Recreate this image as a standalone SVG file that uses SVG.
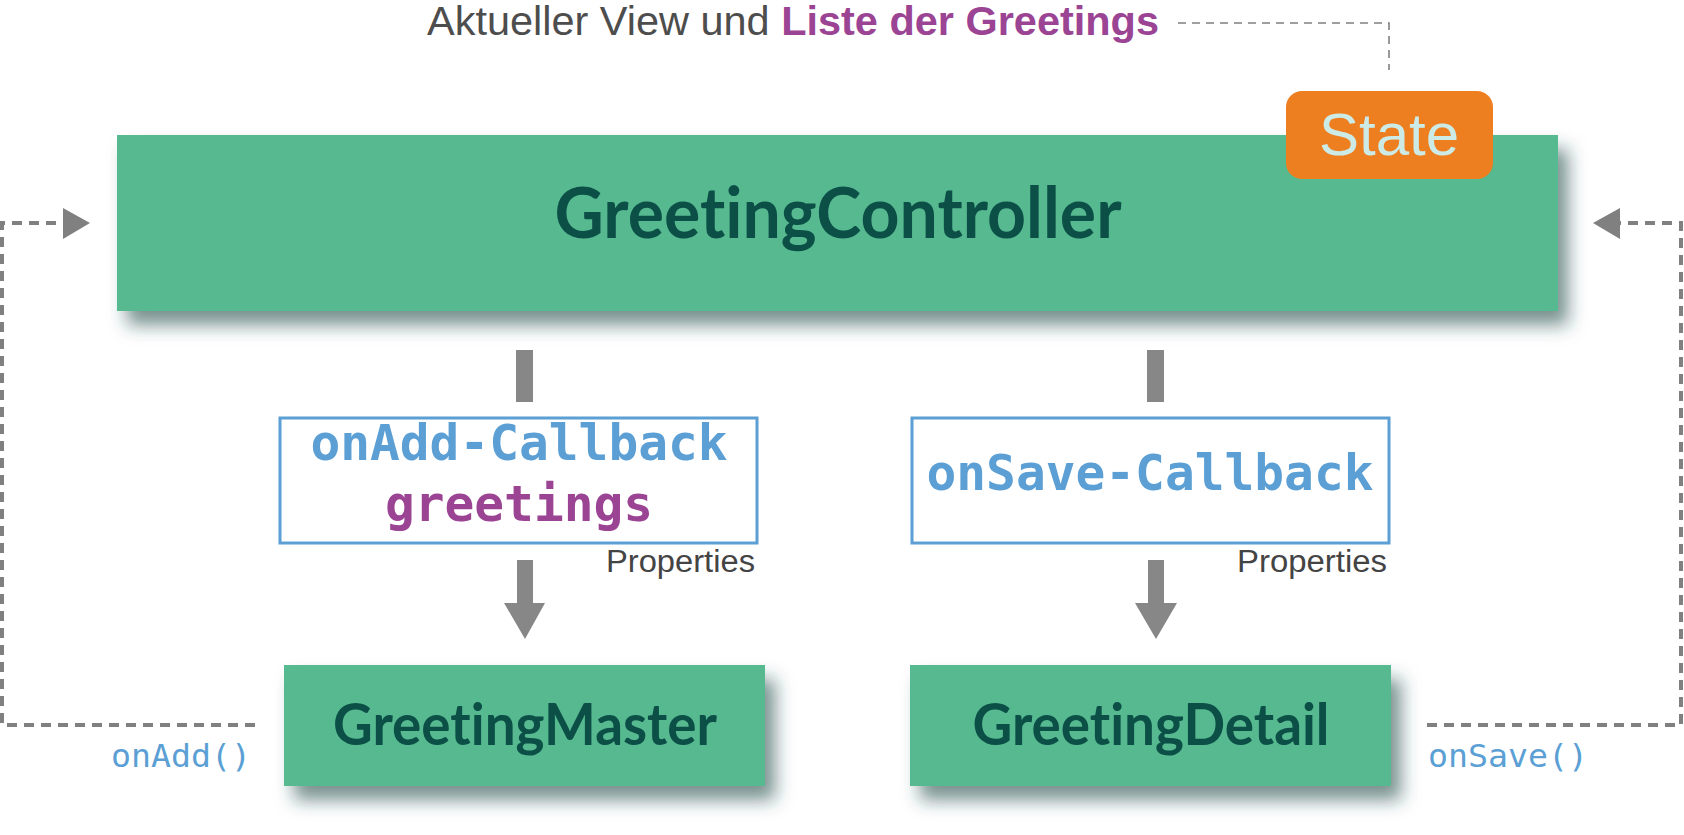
<svg xmlns="http://www.w3.org/2000/svg" width="1684" height="835" viewBox="0 0 1684 835">
<defs>
<filter id="sh" x="-10%" y="-20%" width="130%" height="160%">
<feDropShadow dx="10" dy="14" stdDeviation="9" flood-color="#1d4a45" flood-opacity="0.6"/>
</filter>
<style>
text{font-variant-ligatures:none;font-feature-settings:"liga" 0,"clig" 0}
.comp{fill:#57B98F;filter:url(#sh)}
.ctext{font-family:Lato,"Noto Sans",sans-serif;font-weight:700;fill:#0B4F47;text-anchor:middle}
.prop{fill:#fff;stroke:#5B9FD4;stroke-width:3}
.mono{font-family:"DejaVu Sans Mono","Liberation Mono",monospace;font-weight:700;font-size:49.5px;text-anchor:middle}
.blue{fill:#5B9FD4}
.purple{fill:#9B4494}
.lbl{font-family:"Liberation Sans",Arial,sans-serif;font-size:31px;fill:#444;text-anchor:end}
.call{font-family:"DejaVu Sans Mono","Liberation Mono",monospace;font-size:32px;fill:#5B9FD4}
.bar{fill:#878787}
.fb{fill:none;stroke:#808080;stroke-width:4;stroke-dasharray:10 7}
.thin{fill:none;stroke:#808080;stroke-width:1.6;stroke-dasharray:8 6}
</style>
</defs>
<rect width="1684" height="835" fill="#fff"/>

<g id="title">
<text x="427" y="35" font-family="'Liberation Sans',Arial,sans-serif" font-size="40" fill="#4d4d4d" textLength="732" lengthAdjust="spacingAndGlyphs">Aktueller View und <tspan font-weight="700" fill="#9B4494">Liste der Greetings</tspan></text>
</g>

<g id="connectors">
<path class="thin" d="M1178 23 H1389 V70"/>
<rect class="bar" x="516" y="350" width="17" height="52"/>
<rect class="bar" x="1147" y="350" width="17" height="52"/>
<path class="bar" d="M517 560 H533 V603 H545 L525 639 L504 603 H517 Z"/>
<path class="bar" d="M1148 560 H1164 V603 H1177 L1156 639 L1135 603 H1148 Z"/>
<path class="fb" d="M255 725 H2 V223 H63"/>
<polygon points="63,208 90,223 63,239" fill="#808080"/>
<path class="fb" d="M1427 725 H1681 V223 H1620"/>
<polygon points="1620,208 1593,223 1620,239" fill="#808080"/>
<text class="call" x="111" y="767" textLength="140" lengthAdjust="spacingAndGlyphs">onAdd()</text>
<text class="call" x="1428" y="767" textLength="160" lengthAdjust="spacingAndGlyphs">onSave()</text>
</g>

<g id="GreetingController">
<rect class="comp" x="117" y="135" width="1441" height="176"/>
<text class="ctext" x="838" y="238" font-size="70" textLength="567" lengthAdjust="spacingAndGlyphs">GreetingController</text>
</g>

<g id="State">
<rect x="1286" y="91" width="207" height="88" rx="16" fill="#EE7F21"/>
<text x="1389" y="155" font-family="'Liberation Sans',Arial,sans-serif" font-size="60" fill="#CDEBE6" text-anchor="middle">State</text>
</g>

<g id="onAddProps">
<rect class="prop" x="280" y="418" width="477" height="125"/>
<text class="mono blue" x="519" y="460">onAdd-Callback</text>
<text class="mono purple" x="519" y="521">greetings</text>
<text class="lbl" x="755" y="572" textLength="149" lengthAdjust="spacingAndGlyphs">Properties</text>
</g>

<g id="onSaveProps">
<rect class="prop" x="912" y="418" width="477" height="125"/>
<text class="mono blue" x="1150" y="490">onSave-Callback</text>
<text class="lbl" x="1387" y="572" textLength="150" lengthAdjust="spacingAndGlyphs">Properties</text>
</g>

<g id="GreetingMaster">
<rect class="comp" x="284" y="665" width="481" height="121"/>
<text class="ctext" x="525" y="745" font-size="57" textLength="384" lengthAdjust="spacingAndGlyphs">GreetingMaster</text>
</g>

<g id="GreetingDetail">
<rect class="comp" x="910" y="665" width="481" height="121"/>
<text class="ctext" x="1151" y="745" font-size="57" textLength="357" lengthAdjust="spacingAndGlyphs">GreetingDetail</text>
</g>
</svg>
